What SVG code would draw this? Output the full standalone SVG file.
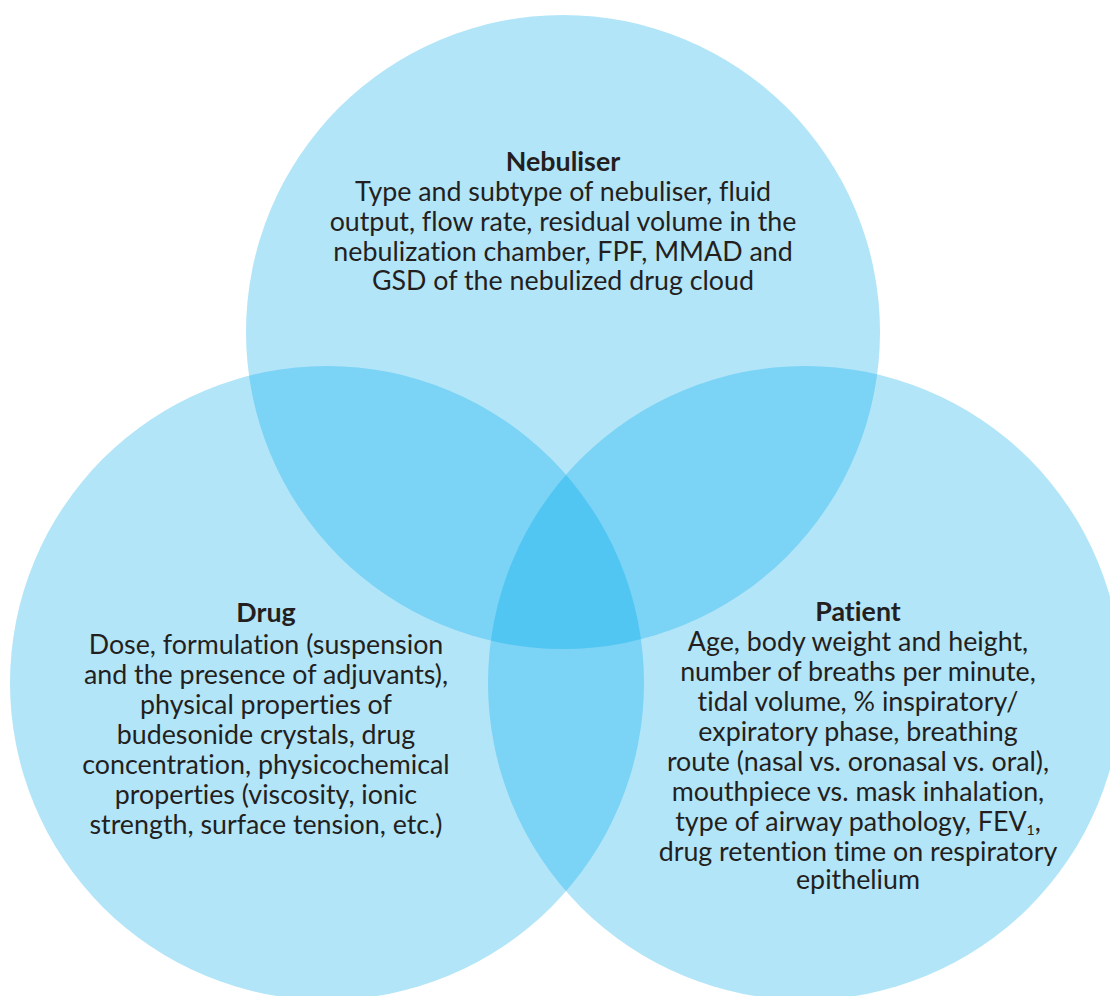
<svg xmlns="http://www.w3.org/2000/svg" width="1110" height="996" viewBox="0 0 1110 996">
  <style>
    .t { font-family: Lato, "Open Sans", "Liberation Sans", sans-serif; font-size: 26.8px; fill: #231f20; text-anchor: middle; font-variant-ligatures: none; }
    .h { font-weight: bold; }
    .c1 { fill: #b3e5f8; }
    .c2 { fill: #7bd3f5; }
    .c3 { fill: #52c6f2; }
  </style>
  <defs>
    <circle id="cTop" cx="563" cy="332" r="317"/>
    <circle id="cLeft" cx="327" cy="683" r="317"/>
    <circle id="cRight" cx="805" cy="683" r="317"/>
    <clipPath id="clipTop"><use href="#cTop"/></clipPath>
    <clipPath id="clipLeft"><use href="#cLeft"/></clipPath>
    <clipPath id="clipRight"><use href="#cRight"/></clipPath>
  </defs>

  <rect width="1110" height="996" fill="#ffffff"/>

  <!-- base circles -->
  <g id="nebuliser-circle"><use href="#cTop" class="c1"/></g>
  <g id="drug-circle"><use href="#cLeft" class="c1"/></g>
  <g id="patient-circle"><use href="#cRight" class="c1"/></g>

  <!-- pairwise overlaps -->
  <g id="overlaps">
    <g clip-path="url(#clipTop)"><use href="#cLeft" class="c2"/></g>
    <g clip-path="url(#clipTop)"><use href="#cRight" class="c2"/></g>
    <g clip-path="url(#clipLeft)"><use href="#cRight" class="c2"/></g>
    <!-- centre where all three meet -->
    <g clip-path="url(#clipTop)"><g clip-path="url(#clipLeft)"><use href="#cRight" class="c3"/></g></g>
  </g>

  <g id="nebuliser">
    <text x="563" y="171" class="t h">Nebuliser</text>
    <text x="563" y="201" class="t">Type and subtype of nebuliser, fluid</text>
    <text x="563" y="231" class="t">output, flow rate, residual volume in the</text>
    <text x="563" y="261" class="t">nebulization chamber, FPF, MMAD and</text>
    <text x="563" y="290" class="t">GSD of the nebulized drug cloud</text>
  </g>

  <g id="drug">
    <text x="266" y="622" class="t h">Drug</text>
    <text x="266" y="654" class="t">Dose, formulation (suspension</text>
    <text x="266" y="684" class="t">and the presence of adjuvants),</text>
    <text x="266" y="714" class="t">physical properties of</text>
    <text x="266" y="744" class="t">budesonide crystals, drug</text>
    <text x="266" y="774" class="t">concentration, physicochemical</text>
    <text x="266" y="804" class="t">properties (viscosity, ionic</text>
    <text x="266" y="834" class="t">strength, surface tension, etc.)</text>
  </g>

  <g id="patient">
    <text x="858" y="621" class="t h">Patient</text>
    <text x="858" y="651" class="t">Age, body weight and height,</text>
    <text x="858" y="681" class="t">number of breaths per minute,</text>
    <text x="858" y="711" class="t">tidal volume, % inspiratory/</text>
    <text x="858" y="741" class="t">expiratory phase, breathing</text>
    <text x="858" y="771" class="t">route (nasal vs. oronasal vs. oral),</text>
    <text x="858" y="801" class="t">mouthpiece vs. mask inhalation,</text>
    <text x="858" y="831" class="t">type of airway pathology, FEV<tspan font-size="14" dy="4">1</tspan><tspan dy="-4">,</tspan></text>
    <text x="858" y="861" class="t">drug retention time on respiratory</text>
    <text x="858" y="889" class="t">epithelium</text>
  </g>
</svg>
